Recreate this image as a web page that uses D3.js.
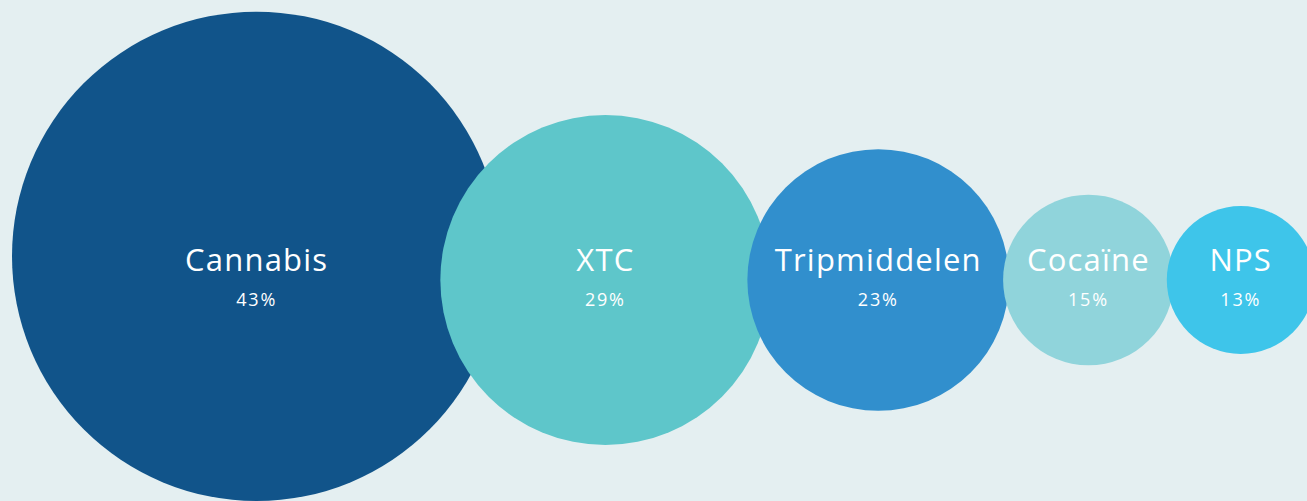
<!DOCTYPE html>
<html>
<head>
<meta charset="utf-8">
<script src="https://cdn.jsdelivr.net/npm/d3@7"></script>
<style>
  html, body { margin: 0; padding: 0; background: #e4eff1; }
  svg { display: block; }
</style>
</head>
<body>
<svg width="1307" height="501"></svg>
<script>
// data
const categories = ['Cannabis', 'XTC', 'Tripmiddelen', 'Cocaïne', 'NPS'];
const shares = [43, 29, 23, 15, 13];
const colors = ['#11548a', '#5ec6ca', '#318fcd', '#90d4db', '#3ec5ea'];

function plot() {
  const width = 1307;
  const height = 501;
  const leftEdge = 12;
  const centerY = 280;
  // how much each bubble slides over the previous one
  const overlaps = [0, 61, 23, 6, 7];

  const rScale = d3.scaleLinear()
      .domain([0, 100])
      .range([0, 569]);

  const data = categories.map((c, i) => ({ name: c, value: shares[i], color: colors[i] }));

  let prevX = null, prevR = 0;
  data.forEach((d, i) => {
    d.r = rScale(d.value);
    d.x = prevX === null ? leftEdge + d.r : prevX + prevR + d.r - overlaps[i];
    d.y = Math.min(centerY, height - d.r);
    prevX = d.x;
    prevR = d.r;
  });

  const svg = d3.select('svg');
  svg.append('rect')
      .attr('width', width)
      .attr('height', height)
      .style('fill', '#e4eff1');

  svg.selectAll('circle.bubble')
      .data(data)
      .enter()
      .append('circle')
      .attr('class', 'bubble')
      .attr('cx', d => d.x)
      .attr('cy', d => d.y)
      .attr('r', d => d.r)
      .style('fill', d => d.color);

  const labels = svg.selectAll('g.label')
      .data(data)
      .enter()
      .append('g')
      .attr('class', 'label')
      .attr('transform', d => `translate(${d.x}, 0)`);
  labels.append('text')
      .attr('y', 271)
      .attr('text-anchor', 'middle')
      .style('font-family', '"Open Sans", sans-serif')
      .style('font-size', '31px')
      .style('letter-spacing', '1.2px')
      .style('fill', '#ffffff')
      .text(d => d.name);
  labels.append('text')
      .attr('y', 306)
      .attr('text-anchor', 'middle')
      .style('font-family', '"Open Sans", sans-serif')
      .style('font-size', '18px')
      .style('letter-spacing', '1.8px')
      .style('fill', '#ffffff')
      .text(d => d.value + '%');
}

plot();
</script>
</body>
</html>
